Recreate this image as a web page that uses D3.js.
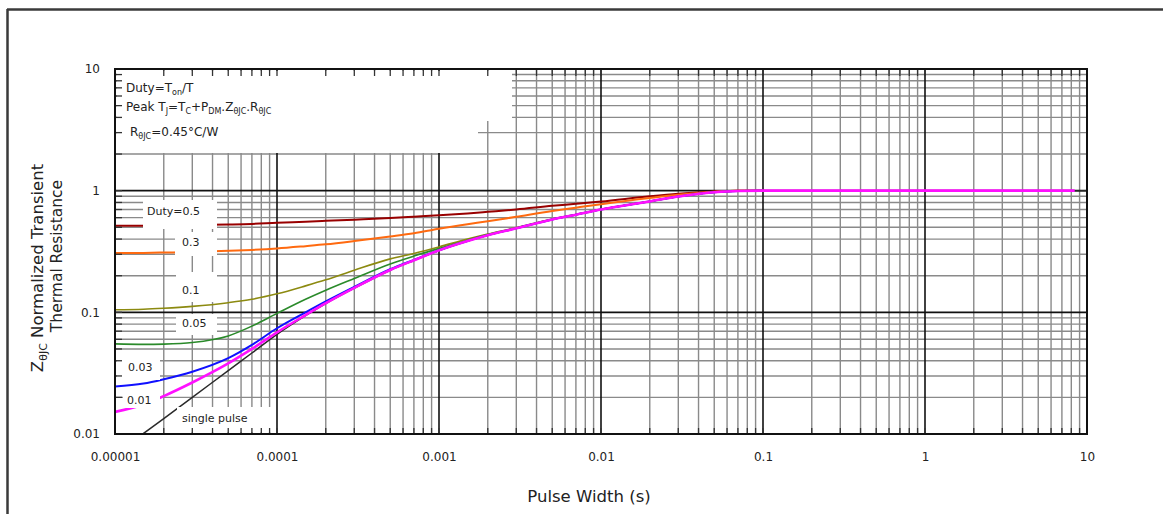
<!DOCTYPE html>
<html>
<head>
<meta charset="utf-8">
<script src="https://cdn.jsdelivr.net/npm/d3@7"></script>
<style>
  html, body { margin: 0; padding: 0; background: #fff; }
  svg { display: block; font-family: "DejaVu Sans", sans-serif; }
</style>
</head>
<body>
<svg id="chart" width="1163" height="514"></svg>
<script>
// ---------------- data ----------------
const pulseWidth = [1e-5, 1.5e-5, 2e-5, 3e-5, 5e-5, 7e-5, 1e-4, 1.5e-4, 2e-4, 3e-4, 5e-4, 7e-4,
                    1e-3, 1.5e-3, 2e-3, 3e-3, 5e-3, 7e-3, 1e-2, 2e-2, 3e-2, 5e-2, 7e-2, 1e-1, 1, 8.4, 10];

const singlePulse = [0.00677, 0.0101, 0.0134, 0.0200, 0.0332, 0.0463, 0.066, 0.094, 0.118, 0.158, 0.222, 0.267,
                     0.322, 0.385, 0.430, 0.490, 0.580, 0.635, 0.700, 0.815, 0.895, 0.970, 0.995, 1, 1, 1, 1];
const duty05 = [0.515, 0.516, 0.518, 0.521, 0.527, 0.533, 0.545, 0.556, 0.565, 0.578, 0.595, 0.610,
                0.627, 0.650, 0.670, 0.700, 0.750, 0.780, 0.815, 0.900, 0.945, 0.985, 1, 1, null, null, null];
const duty03 = [0.307, 0.308, 0.310, 0.313, 0.320, 0.326, 0.335, 0.350, 0.362, 0.385, 0.420, 0.447,
                0.487, 0.530, 0.560, 0.610, 0.680, 0.725, 0.775, 0.870, 0.925, 0.980, 0.998, 1, null, null, null];
const duty01 = [0.105, 0.106, 0.108, 0.112, 0.120, 0.128, 0.142, 0.165, 0.185, 0.222, 0.275, 0.305,
                0.345, 0.400, 0.440, 0.497, 0.585, 0.638, 0.703, 0.816, 0.896, 0.971, 0.996, 1, null, null, null];
const duty005 = [0.055, 0.0545, 0.0548, 0.0565, 0.064, 0.077, 0.098, 0.128, 0.152, 0.190, 0.250, 0.290,
                 0.335, 0.392, 0.435, 0.493, 0.582, 0.636, 0.701, 0.815, 0.895, 0.970, 0.995, 1, null, null, null];
const duty003 = [0.0246, 0.026, 0.0282, 0.0325, 0.042, 0.054, 0.074, 0.100, 0.123, 0.162, 0.226, 0.270,
                 0.324, 0.386, 0.431, 0.490, 0.580, 0.635, 0.700, 0.815, 0.895, 0.970, 0.995, 1, null, null, null];
const duty001 = [0.0152, 0.0175, 0.0205, 0.0265, 0.038, 0.050, 0.0685, 0.095, 0.119, 0.159, 0.223, 0.268,
                 0.323, 0.385, 0.430, 0.490, 0.580, 0.635, 0.700, 0.815, 0.895, 0.970, 0.995, 1, 1, 1, null];

const seriesNames  = ["single pulse", "Duty=0.5", "0.3", "0.1", "0.05", "0.03", "0.01"];
const seriesValues = [singlePulse, duty05, duty03, duty01, duty005, duty003, duty001];
const seriesColors = ["#2a2a2a", "#990000", "#ff6a10", "#8c8a10", "#2a8a2a", "#1010ff", "#ff10ff"];
const seriesWidths = [1.5, 2, 2, 1.6, 1.6, 2, 2.6];

const xTickValues = [1e-5, 1e-4, 1e-3, 1e-2, 1e-1, 1, 10];
const xTickLabels = ["0.00001", "0.0001", "0.001", "0.01", "0.1", "1", "10"];
const yTickValues = [0.01, 0.1, 1, 10];
const yTickLabels = ["0.01", "0.1", "1", "10"];

// ---------------- layout ----------------
const svg = d3.select("#chart");
const L = 115, R = 1087, T = 69, B = 434;
const x = d3.scaleLog().domain([1e-5, 10]).range([L, R]);
const y = d3.scaleLog().domain([0.01, 10]).range([B, T]);

// outer frame
svg.append("line").attr("x1", 7).attr("x2", 1163).attr("y1", 9.5).attr("y2", 9.5)
  .attr("stroke", "#3a3a3a").attr("stroke-width", 2.5);
svg.append("line").attr("x1", 7.5).attr("x2", 7.5).attr("y1", 9).attr("y2", 514)
  .attr("stroke", "#3a3a3a").attr("stroke-width", 2.5);

// minor / major values
const xMinor = [], yMinor = [];
for (let e = -5; e < 1; e++) for (let m = 2; m <= 9; m++) xMinor.push(m * Math.pow(10, e));
for (let e = -2; e < 1; e++) for (let m = 2; m <= 9; m++) yMinor.push(m * Math.pow(10, e));
const xMajor = xTickValues.slice(1, -1);
const yMajor = yTickValues.slice(1, -1);

const grid = svg.append("g");
grid.selectAll(".vmin").data(xMinor).join("line")
  .attr("x1", d => x(d)).attr("x2", d => x(d)).attr("y1", T).attr("y2", B)
  .attr("stroke", "#8a8a8a").attr("stroke-width", 1.4);
grid.selectAll(".hmin").data(yMinor).join("line")
  .attr("y1", d => y(d)).attr("y2", d => y(d)).attr("x1", L).attr("x2", R)
  .attr("stroke", "#8a8a8a").attr("stroke-width", 1.4);
grid.selectAll(".vmaj").data(xMajor).join("line")
  .attr("x1", d => x(d)).attr("x2", d => x(d)).attr("y1", T).attr("y2", B)
  .attr("stroke", "#111").attr("stroke-width", 1.6);
grid.selectAll(".hmaj").data(yMajor).join("line")
  .attr("y1", d => y(d)).attr("y2", d => y(d)).attr("x1", L).attr("x2", R)
  .attr("stroke", "#111").attr("stroke-width", 1.6);

// clip
svg.append("clipPath").attr("id", "plotclip").append("rect")
  .attr("x", L).attr("y", T).attr("width", R - L).attr("height", B - T);

// curves
const line = d3.line()
  .defined(d => d[1] != null)
  .x(d => x(d[0])).y(d => y(d[1]))
  .curve(d3.curveMonotoneX);
const curves = svg.append("g").attr("clip-path", "url(#plotclip)");
seriesValues.forEach((vals, i) => {
  const pts = pulseWidth.map((p, j) => [p, vals[j]]);
  curves.append("path").attr("d", line(pts)).attr("fill", "none")
    .attr("stroke", seriesColors[i]).attr("stroke-width", seriesWidths[i])
    .attr("stroke-linejoin", "round");
});

// white annotation boxes (cover grid as in the reference)
const boxes = [
  [117, 71, 478, 153], [478, 71, 512, 121],
  [143, 200, 217, 229], [175, 232, 217, 256], [176, 272, 217, 302],
  [176, 314, 217, 335], [117, 353, 160, 380], [123, 388, 160, 408],
  [177, 407, 274, 432]
];
svg.append("g").selectAll("rect").data(boxes).join("rect")
  .attr("x", d => d[0]).attr("y", d => d[1])
  .attr("width", d => d[2] - d[0]).attr("height", d => d[3] - d[1])
  .attr("fill", "#fff");

// inner ticks on left, top, bottom
const ticks = svg.append("g").attr("stroke", "#333").attr("stroke-width", 1.3);
ticks.selectAll(".tl").data(yMinor.concat(yMajor)).join("line")
  .attr("x1", L).attr("x2", L + 7).attr("y1", d => y(d)).attr("y2", d => y(d));
ticks.selectAll(".tt").data(xMinor.concat(xMajor)).join("line")
  .attr("y1", T).attr("y2", T + 7).attr("x1", d => x(d)).attr("x2", d => x(d));
ticks.selectAll(".tb").data(xMinor.concat(xMajor)).join("line")
  .attr("y1", B).attr("y2", B - 6).attr("x1", d => x(d)).attr("x2", d => x(d));

// plot border
svg.append("rect").attr("x", L).attr("y", T).attr("width", R - L).attr("height", B - T)
  .attr("fill", "none").attr("stroke", "#111").attr("stroke-width", 2);

// axes
const xAxis = d3.axisBottom(x).tickValues(xTickValues)
  .tickFormat((d, i) => xTickLabels[i]).tickSize(0).tickPadding(18.5);
const gx = svg.append("g").attr("transform", `translate(0,${B})`).call(xAxis);
gx.select(".domain").remove();
gx.selectAll("text").attr("font-size", 12).attr("fill", "#222")
  .attr("font-family", "DejaVu Sans");

const yAxis = d3.axisLeft(y).tickValues(yTickValues)
  .tickFormat((d, i) => yTickLabels[i]).tickSize(0).tickPadding(15);
const gy = svg.append("g").attr("transform", `translate(${L},0)`).call(yAxis);
gy.select(".domain").remove();
gy.selectAll("text").attr("font-size", 12).attr("fill", "#222")
  .attr("font-family", "DejaVu Sans");

// axis titles
svg.append("text").attr("x", 589).attr("y", 502).attr("text-anchor", "middle")
  .attr("font-size", 16.5).attr("fill", "#222").text("Pulse Width (s)");

const yt1 = svg.append("text").attr("transform", "translate(43,268) rotate(-90)")
  .attr("text-anchor", "middle").attr("font-size", 16.5).attr("fill", "#222");
yt1.append("tspan").text("Z");
yt1.append("tspan").attr("font-size", 11).attr("dy", 4).text("θJC");
yt1.append("tspan").attr("dy", -4).text(" Normalized Transient");
svg.append("text").attr("transform", "translate(62,256) rotate(-90)")
  .attr("text-anchor", "middle").attr("font-size", 15.5).attr("fill", "#222")
  .text("Thermal Resistance");

// annotation text
const a1 = svg.append("text").attr("x", 126).attr("y", 92).attr("font-size", 12).attr("fill", "#222");
a1.append("tspan").text("Duty=T");
a1.append("tspan").attr("font-size", 8).attr("dy", 2.5).text("on");
a1.append("tspan").attr("dy", -2.5).text("/T");

const a2 = svg.append("text").attr("x", 126).attr("y", 111).attr("font-size", 12).attr("fill", "#222");
a2.append("tspan").text("Peak T");
a2.append("tspan").attr("font-size", 8).attr("dy", 2.5).text("J");
a2.append("tspan").attr("dy", -2.5).text("=T");
a2.append("tspan").attr("font-size", 8).attr("dy", 2.5).text("C");
a2.append("tspan").attr("dy", -2.5).text("+P");
a2.append("tspan").attr("font-size", 8).attr("dy", 2.5).text("DM");
a2.append("tspan").attr("dy", -2.5).text(".Z");
a2.append("tspan").attr("font-size", 8).attr("dy", 2.5).text("θJC");
a2.append("tspan").attr("dy", -2.5).text(".R");
a2.append("tspan").attr("font-size", 8).attr("dy", 2.5).text("θJC");

const a3 = svg.append("text").attr("x", 130).attr("y", 136).attr("font-size", 12).attr("fill", "#222");
a3.append("tspan").text("R");
a3.append("tspan").attr("font-size", 8).attr("dy", 2.5).text("θJC");
a3.append("tspan").attr("dy", -2.5).text("=0.45°C/W");

// curve labels
const labelPos = [[182, 422], [147, 215], [182, 246], [182, 294], [182, 327], [128, 371], [127, 404]];
svg.append("g").selectAll("text").data(seriesNames).join("text")
  .attr("x", (d, i) => labelPos[i][0]).attr("y", (d, i) => labelPos[i][1])
  .attr("font-size", 11).attr("fill", "#222").text(d => d);
</script>
</body>
</html>
